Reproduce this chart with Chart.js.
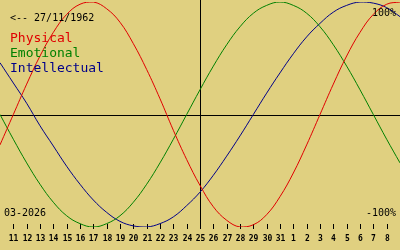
<!DOCTYPE html>
<html>
<head>
<meta charset="utf-8">
<script src="https://cdn.jsdelivr.net/npm/chart.js@4/dist/chart.umd.min.js"></script>
<style>
  html, body { margin: 0; padding: 0; background: #e0d080; }
  canvas { display: block; }
</style>
</head>
<body>
<canvas id="bio" width="400" height="250"></canvas>
<script>
/* ── Data: days shown (10 Mar .. 9 Apr), centre = 25 ── */
const days = [10, 11, 12, 13, 14, 15, 16, 17, 18, 19, 20, 21, 22, 23, 24, 25,
              26, 27, 28, 29, 30, 31, 1, 2, 3, 4, 5, 6, 7, 8, 9];

const physical = [-0.27, 0.00, 0.27, 0.52, 0.73, 0.89, 0.98, 1.00, 0.94, 0.82, 0.63,
                  0.40, 0.14, -0.14, -0.40, -0.63, -0.82, -0.94, -1.00, -0.98, -0.89,
                  -0.73, -0.52, -0.27, 0.00, 0.27, 0.52, 0.73, 0.89, 0.98, 1.00];

const emotional = [0.00, -0.22, -0.43, -0.62, -0.78, -0.90, -0.97, -1.00, -0.97, -0.90,
                   -0.78, -0.62, -0.43, -0.22, 0.00, 0.22, 0.43, 0.62, 0.78, 0.90, 0.97,
                   1.00, 0.97, 0.90, 0.78, 0.62, 0.43, 0.22, 0.00, -0.22, -0.43];

const intellectual = [0.46, 0.28, 0.10, -0.10, -0.28, -0.46, -0.62, -0.76, -0.87, -0.95,
                      -0.99, -1.00, -0.97, -0.91, -0.81, -0.69, -0.54, -0.37, -0.19, 0.00,
                      0.19, 0.37, 0.54, 0.69, 0.81, 0.91, 0.97, 1.00, 0.99, 0.95, 0.87];

const seriesNames = ['Physical', 'Emotional', 'Intellectual'];
const seriesColors = ['#e00000', '#008000', '#000088'];

const BG = '#e0d080';
const MONO = "'DejaVu Sans Mono', monospace";

/* ── Axes, ticks and captions drawn through the chart's own scales ── */
const bioFrame = {
  id: 'bioFrame',
  beforeDraw(chart) {
    const c = chart.ctx;
    c.save();
    c.fillStyle = BG;
    c.fillRect(0, 0, chart.width, chart.height);
    c.restore();
  },
  beforeDatasetsDraw(chart) {
    const c = chart.ctx, xs = chart.scales.x, ys = chart.scales.y;
    const y0 = Math.round(ys.getPixelForValue(0)) + 0.5;
    const xc = Math.round(xs.getPixelForValue(days.indexOf(25))) + 0.5;
    c.save();
    c.strokeStyle = '#000';
    c.lineWidth = 1;
    c.beginPath();
    c.moveTo(0, y0); c.lineTo(chart.width, y0);
    c.moveTo(xc, 0); c.lineTo(xc, 229);
    c.stroke();

    // day ticks
    c.font = 'bold 8px ' + MONO;
    c.fillStyle = '#000';
    c.textAlign = 'center';
    c.textBaseline = 'alphabetic';
    days.forEach((d, i) => {
      if (i === 0 || i === days.length - 1) return;
      const x = Math.round(xs.getPixelForValue(i)) + 0.5;
      c.beginPath();
      c.moveTo(x, 224); c.lineTo(x, 229);
      c.stroke();
      c.fillText(String(d), x, 241);
    });
    c.restore();
  },
  afterDatasetsDraw(chart) {
    const c = chart.ctx;
    c.save();
    c.textBaseline = 'alphabetic';
    c.font = '10px ' + MONO;
    c.fillStyle = '#000';
    c.textAlign = 'left';
    c.fillText('<-- 27/11/1962', 10, 21);
    c.fillText('03-2026', 4, 216);
    c.textAlign = 'right';
    c.fillText('100%', 396, 16);
    c.fillText('-100%', 396, 216);

    // legend
    c.font = '13px ' + MONO;
    c.textAlign = 'left';
    seriesNames.forEach((n, i) => {
      c.fillStyle = seriesColors[i];
      c.fillText(n, 10, 42 + i * 15);
    });
    c.restore();
  }
};

const mkSet = (label, data, color) => ({
  label, data,
  borderColor: color,
  borderWidth: 1,
  pointRadius: 0,
  tension: 0.4,
  fill: false,
});

new Chart(document.getElementById('bio'), {
  type: 'line',
  data: {
    labels: days,
    datasets: [
      mkSet(seriesNames[0], physical, seriesColors[0]),
      mkSet(seriesNames[1], emotional, seriesColors[1]),
      mkSet(seriesNames[2], intellectual, seriesColors[2]),
    ],
  },
  options: {
    responsive: false,
    animation: false,
    layout: { padding: { top: 2, bottom: 23, left: 0, right: 0 } },
    plugins: { legend: { display: false }, tooltip: { enabled: false } },
    scales: {
      x: { display: false, offset: false },
      y: { display: false, min: -1, max: 1 },
    },
  },
  plugins: [bioFrame],
});
</script>
</body>
</html>
